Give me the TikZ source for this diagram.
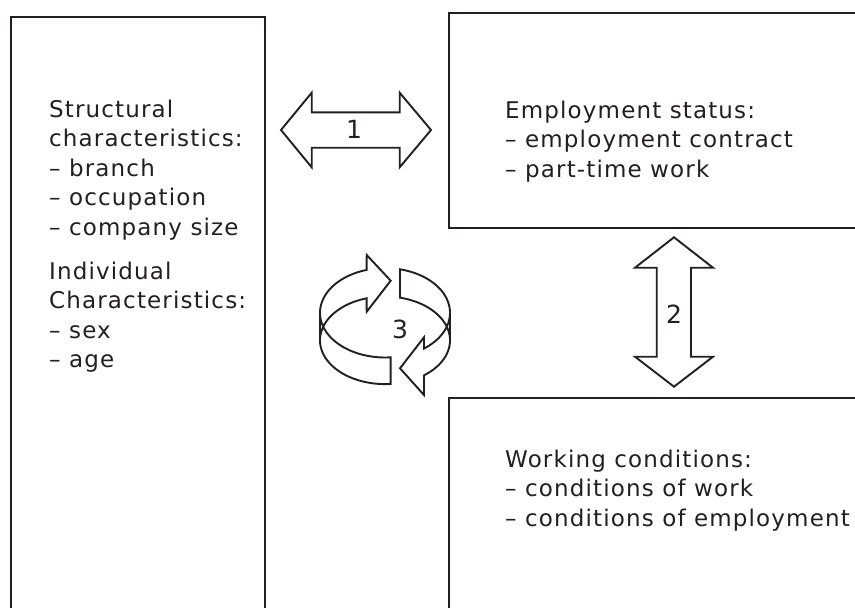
\documentclass[tikz,border=0pt]{standalone}
\usepackage{fontspec}
\setmainfont{DejaVu Sans}[LetterSpace=5]
\definecolor{ink}{HTML}{231F20}
\begin{document}
\begin{tikzpicture}[x=1pt,y=-1pt,
  box/.style={draw=ink, line width=2.4pt},
  blockarrow/.style={draw=ink, line width=1.9pt, line join=miter},
  txt/.style={anchor=base west, inner sep=0pt, align=left, text=ink, font=\fontsize{23}{29.5}\selectfont},
  num/.style={anchor=base, inner sep=0pt, text=ink, font=\fontsize{25}{28}\selectfont}]
\useasboundingbox (0,0) rectangle (855,608);
\clip (0,0) rectangle (855,608);
% boxes
\draw[box] (11,17) rectangle (265,630);
\draw[box] (449,13) rectangle (880,228);
\draw[box] (449,398) rectangle (880,630);
% texts (anchored at the baseline of the last line)
\node[txt] (left) at (49,367.5) {Structural\\characteristics:\\– branch\\– occupation\\– company size\\[14.5pt]Individual\\Characteristics:\\– sex\\– age};
\node[txt] (status) at (505,177.3) {Employment status:\\– employment contract\\– part-time work};
\node[txt] (cond) at (505,526) {Working conditions:\\– conditions of work\\– conditions of employment};
% arrow 1
\draw[blockarrow] (281,130) -- (311.7,92.7) -- (311.7,112.3) -- (399.7,112.3) -- (399.7,92.7) -- (431,130)
  -- (399.7,167.3) -- (399.7,147.7) -- (311.7,147.7) -- (311.7,167.3) -- cycle;
\node[num] (n1) at (354,138) {1};
% arrow 2
\draw[blockarrow] (674,237.3) -- (713,267.7) -- (691,267.7) -- (691,356.7) -- (713,356.7) -- (674,386.7)
  -- (635,356.7) -- (656.7,356.7) -- (656.7,267.7) -- (635,267.7) -- cycle;
\node[num] (n2) at (674,323) {2};
% circular arrows
\draw[blockarrow] plot[domain=85:253.6, samples=60, variable=\t] ({385+65*cos(\t)}, {312.8+44.7*sin(\t)})
  -- (366.7,255) -- (390.7,280.7) -- (366.7,311.7)
  -- plot[domain=253.6:85, samples=60, variable=\t] ({385+65*cos(\t)}, {340.3+43.8*sin(\t)}) -- cycle;
\draw[blockarrow] (320,312.8) -- (320,340.3);
\draw[blockarrow] plot[domain=283.3:413.1, samples=60, variable=\t] ({385+65*cos(\t)}, {312.8+44.7*sin(\t)})
  -- (424,337.3) -- (400,368.3) -- (424,395)
  -- plot[domain=413.1:283.3, samples=60, variable=\t] ({385+65*cos(\t)}, {340.3+43.8*sin(\t)}) -- cycle;
\draw[blockarrow] (450,312.8) -- (450,340.3);
\node[num] (n3) at (400,338.5) {3};
\end{tikzpicture}
\end{document}
